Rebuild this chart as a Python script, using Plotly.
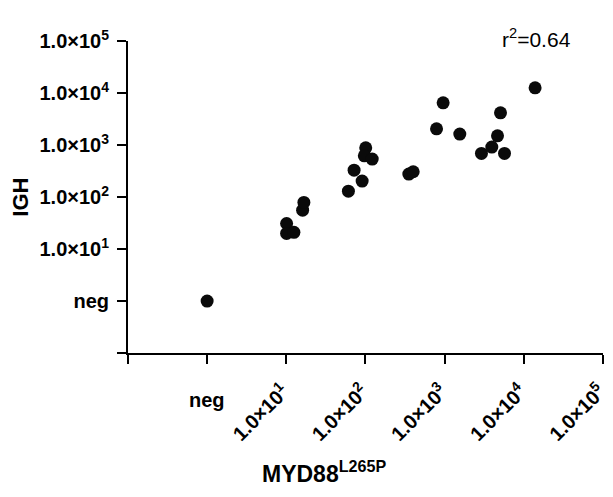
import numpy as np
import plotly.graph_objects as go

# MYD88 L265P vs IGH levels ("neg" plotted at 1)
myd88 = [1, 10.1, 10.1, 12.5, 16.1, 16.7, 61, 72, 91, 101, 97, 122,
         354, 402, 793, 961, 1560, 2930, 3960, 4675, 5100, 5730, 13960]
igh = [1, 31, 20, 21, 56, 79, 130, 330, 203, 887, 622, 538,
       277, 307, 2055, 6500, 1630, 692, 916, 1510, 4180, 692, 12650]

tick_vals = [1, 10, 100, 1000, 10000, 100000]
y_tick_text = ["neg"] + [f"1.0\u00d710<sup>{k}</sup>" for k in range(1, 6)]
x_tick_text = [""] + [f"1.0\u00d710<sup>{k}</sup>" for k in range(1, 6)]

FONT = "Arial, Liberation Sans, sans-serif"

fig = go.Figure(go.Scatter(
    x=myd88, y=igh, mode="markers",
    marker=dict(size=13, color="#0a0a0a"),
))

axis_common = dict(
    type="log",
    automargin=False,
    showgrid=False, zeroline=False,
    showline=True, linecolor="black", linewidth=2,
    ticks="outside", ticklen=9, tickwidth=2, tickcolor="black",
    tickfont=dict(family=FONT, size=20, color="black", weight="bold"),
)

# page body has an 8px margin, so the figure is laid out 8px in from the edge
fig.update_layout(
    width=605, height=489,
    margin=dict(l=120, r=10, t=33, b=144),
    plot_bgcolor="white", paper_bgcolor="white",
    showlegend=False,
    xaxis=dict(axis_common, range=[-1, 5.003], tickvals=[0.1] + tick_vals,
               ticktext=[""] + x_tick_text, tickangle=-45,
               ticklabelstandoff=8, ticklabelshift=-3),
    yaxis=dict(axis_common, range=[-1, 5.003], tickvals=[0.1] + tick_vals,
               ticktext=[""] + y_tick_text, ticklabelstandoff=4),
)

ann = dict(showarrow=False, xanchor="center", yanchor="middle")
# horizontal "neg" label on the x axis
fig.add_annotation(ann, x=0, xref="x", y=-0.15, yref="paper", text="neg",
                   font=dict(family=FONT, size=20, color="black", weight="bold"))
# axis titles
fig.add_annotation(ann, x=-0.228, xref="paper", y=0.5, yref="paper", text="IGH", textangle=-90,
                   font=dict(family=FONT, size=22, color="black", weight="bold"))
fig.add_annotation(ann, x=0.413, xref="paper", y=-0.38, yref="paper", text="MYD88<sup>L265P</sup>",
                   font=dict(family=FONT, size=23, color="black", weight="bold"))
fig.add_annotation(ann, x=0.861, xref="paper", y=1.01, yref="paper", text="r<sup>2</sup>=0.64",
                   font=dict(family=FONT, size=21, color="black"))

fig.write_html("out.html")
